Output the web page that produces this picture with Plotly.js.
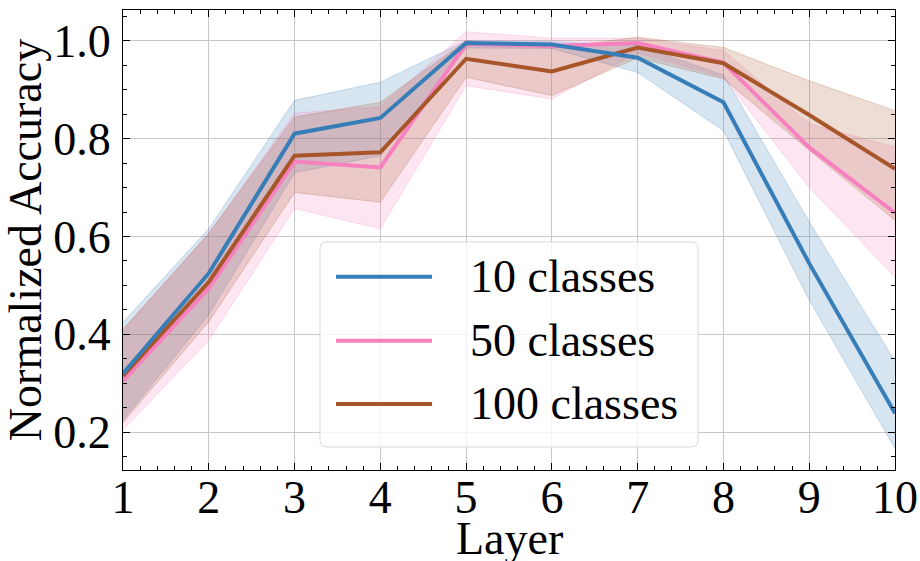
<!DOCTYPE html>
<html>
<head>
<meta charset="utf-8">
<script src="https://cdn.plot.ly/plotly-3.0.1.min.js"></script>
<style>html,body{margin:0;padding:0;background:#fff;}#chart{width:920px;height:561px;}</style>
</head>
<body>
<div id="chart"></div>
<script>
// ---- data ----
const layers = [1, 2, 3, 4, 5, 6, 7, 8, 9, 10];

const acc10    = [0.320, 0.525, 0.810, 0.842, 0.995, 0.992, 0.965, 0.874, 0.545, 0.239];
const acc10Lo  = [0.225, 0.440, 0.730, 0.765, 0.985, 0.984, 0.935, 0.816, 0.470, 0.167];
const acc10Hi  = [0.425, 0.616, 0.878, 0.915, 1.000, 0.998, 0.990, 0.930, 0.630, 0.345];

const acc50    = [0.305, 0.494, 0.753, 0.741, 0.993, 0.989, 0.995, 0.955, 0.782, 0.648];
const acc50Lo  = [0.205, 0.388, 0.657, 0.616, 0.908, 0.881, 0.975, 0.925, 0.700, 0.517];
const acc50Hi  = [0.410, 0.606, 0.852, 0.865, 1.018, 1.005, 1.005, 0.980, 0.830, 0.782];

const acc100   = [0.315, 0.507, 0.765, 0.772, 0.963, 0.937, 0.986, 0.954, 0.848, 0.738];
const acc100Lo = [0.220, 0.426, 0.690, 0.670, 0.925, 0.888, 0.965, 0.922, 0.776, 0.633];
const acc100Hi = [0.410, 0.606, 0.844, 0.874, 1.000, 0.985, 1.007, 0.986, 0.918, 0.857];

const seriesNames = ['10 classes', '50 classes', '100 classes'];
const xTickLabels = ['1','2','3','4','5','6','7','8','9','10'];
const yTickVals = [0.2, 0.4, 0.6, 0.8, 1.0];
const yTickLabels = ['0.2','0.4','0.6','0.8','1.0'];
const xTitle = 'Layer';
const yTitle = 'Normalized Accuracy';

// ---- styling ----
const colors = ['#377eb8', '#f781bf', '#a65628'];
const rgb = ['55,126,184', '247,129,191', '166,86,40'];
const FONT = '"Liberation Serif", "DejaVu Serif", serif';

const series = [
  {y: acc10, lo: acc10Lo, hi: acc10Hi},
  {y: acc50, lo: acc50Lo, hi: acc50Hi},
  {y: acc100, lo: acc100Lo, hi: acc100Hi}
];

const traces = [];
series.forEach((s, i) => {
  traces.push({x: layers, y: s.hi, mode: 'lines', line: {width: 1, color: 'rgba(' + rgb[i] + ',0.25)'},
    showlegend: false, hoverinfo: 'skip'});
  traces.push({x: layers, y: s.lo, mode: 'lines', fill: 'tonexty', fillcolor: 'rgba(' + rgb[i] + ',0.2)',
    line: {width: 1, color: 'rgba(' + rgb[i] + ',0.25)'}, showlegend: false, hoverinfo: 'skip'});
});
// mean lines: draw 50, 100, then 10 on top
[1, 2, 0].forEach(i => {
  const s = series[i];
  traces.push({x: layers, y: s.y, mode: 'lines', name: seriesNames[i],
    line: {width: 4, color: colors[i]}, showlegend: false});
});

// ---- custom matplotlib-like legend (paper coordinates) ----
const lgX0 = 0.2552, lgX1 = 0.7448, lgY0 = 0.05, lgY1 = 0.4957;
const rx = 7 / 772, ry = 7 / 460;
const roundRect =
  'M' + (lgX0 + rx) + ',' + lgY0 +
  ' L' + (lgX1 - rx) + ',' + lgY0 + ' Q' + lgX1 + ',' + lgY0 + ' ' + lgX1 + ',' + (lgY0 + ry) +
  ' L' + lgX1 + ',' + (lgY1 - ry) + ' Q' + lgX1 + ',' + lgY1 + ' ' + (lgX1 - rx) + ',' + lgY1 +
  ' L' + (lgX0 + rx) + ',' + lgY1 + ' Q' + lgX0 + ',' + lgY1 + ' ' + lgX0 + ',' + (lgY1 - ry) +
  ' L' + lgX0 + ',' + (lgY0 + ry) + ' Q' + lgX0 + ',' + lgY0 + ' ' + (lgX0 + rx) + ',' + lgY0 + ' Z';

const shapes = [{type: 'path', xref: 'paper', yref: 'paper', path: roundRect, layer: 'above',
  fillcolor: 'rgba(255,255,255,0.8)', line: {color: '#d9d9d9', width: 1}}];
const annotations = [];
const rowY = [0.4202, 0.2811, 0.1435];
seriesNames.forEach((n, i) => {
  shapes.push({type: 'line', xref: 'paper', yref: 'paper', x0: 0.2759, x1: 0.4003, y0: rowY[i], y1: rowY[i],
    layer: 'above', line: {color: colors[i], width: 4}});
  annotations.push({xref: 'paper', yref: 'paper', x: 0.4469, y: rowY[i], xanchor: 'left', yanchor: 'middle',
    text: n, showarrow: false, font: {family: FONT, size: 46, color: '#000'}});
});
// x-axis title placed like matplotlib's
annotations.push({xref: 'paper', yref: 'paper', x: 0.5, y: -0.206, xanchor: 'center', yanchor: 'bottom',
  text: xTitle, showarrow: false, borderpad: 0, font: {family: FONT, size: 46, color: '#000'}});

const layout = {
  width: 920, height: 561,
  margin: {l: 123, r: 25, t: 10, b: 91},
  paper_bgcolor: '#fff', plot_bgcolor: '#fff',
  font: {family: FONT, size: 46, color: '#000'},
  showlegend: false,
  xaxis: {
    range: [1, 10], tickmode: 'array', tickvals: layers, ticktext: xTickLabels,
    ticks: 'inside', ticklen: 7, tickcolor: '#000', tickwidth: 1,
    minor: {dtick: 0.2, ticks: 'inside', ticklen: 4, tickcolor: '#000', showgrid: false},
    showline: true, linecolor: '#000', linewidth: 1, mirror: 'allticks',
    showgrid: true, gridcolor: '#c8c8c8', gridwidth: 1, zeroline: false,
    tickfont: {family: FONT, size: 46, color: '#000'},
    ticklabelstandoff: -13
  },
  yaxis: {
    range: [0.123, 1.0626], tickmode: 'array', tickvals: yTickVals, ticktext: yTickLabels,
    ticks: 'inside', ticklen: 7, tickcolor: '#000', tickwidth: 1,
    minor: {dtick: 0.05, tick0: 0, ticks: 'inside', ticklen: 4, tickcolor: '#000', showgrid: false},
    showline: true, linecolor: '#000', linewidth: 1, mirror: 'allticks',
    showgrid: true, gridcolor: '#c8c8c8', gridwidth: 1, zeroline: false,
    tickfont: {family: FONT, size: 46, color: '#000'},
    ticklabelstandoff: 2,
    title: {text: yTitle, font: {family: FONT, size: 46, color: '#000'}, standoff: 6}
  },
  shapes: shapes,
  annotations: annotations
};

Plotly.newPlot('chart', traces, layout, {displayModeBar: false, staticPlot: true});
</script>
</body>
</html>
